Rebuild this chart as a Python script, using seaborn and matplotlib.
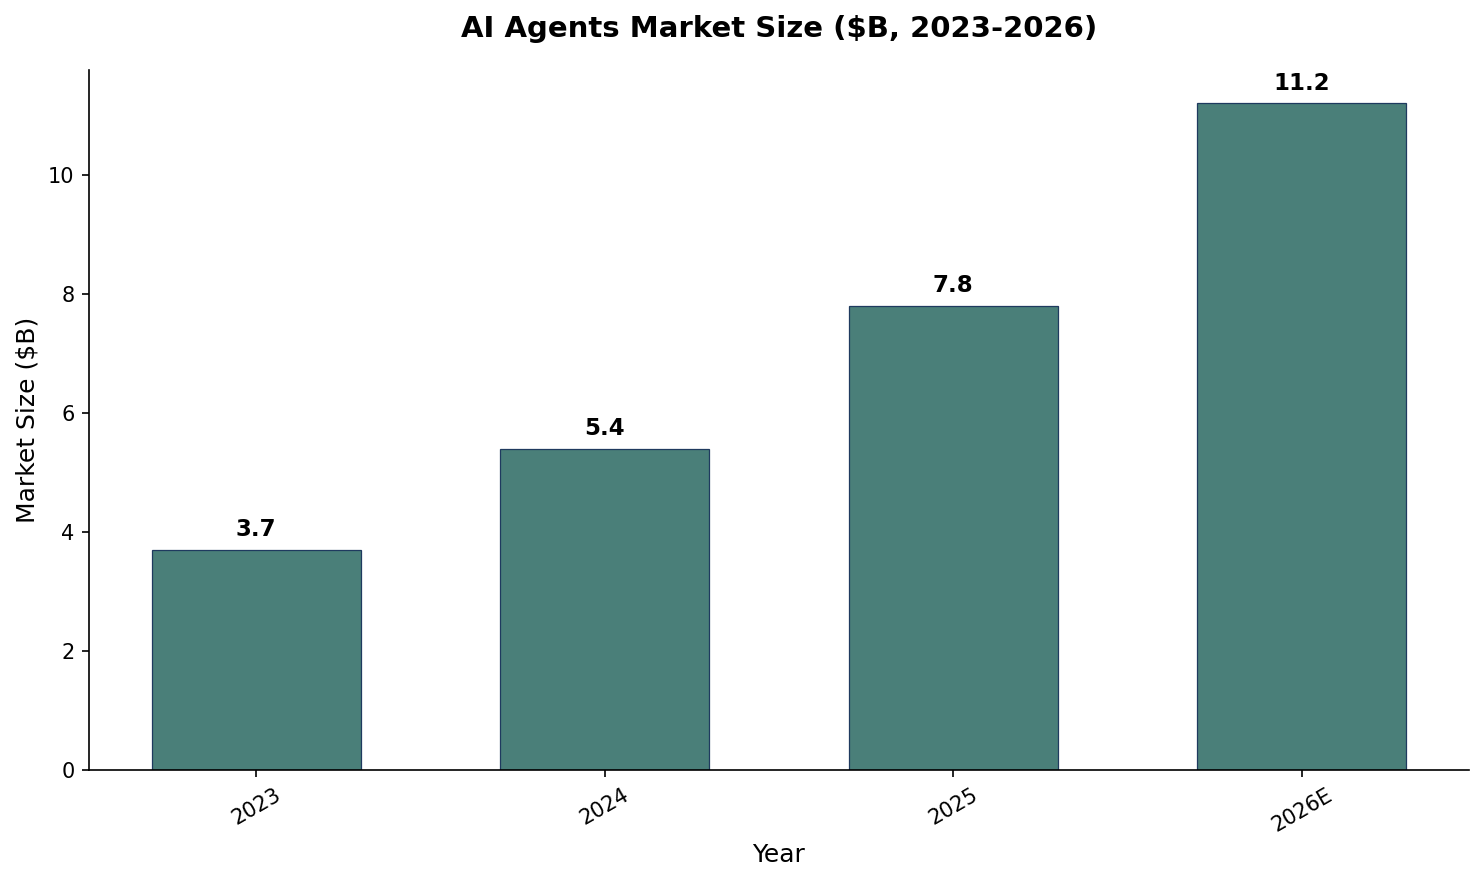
import matplotlib
matplotlib.use("Agg")
import matplotlib.pyplot as plt
import seaborn as sns
import pandas as pd

# Dados do gráfico
years = ["2023", "2024", "2025", "2026E"]
market_size = [3.7, 5.4, 7.8, 11.2]

# Estilo: texto e eixos em preto, como o padrão do matplotlib
sns.set_style("ticks", rc={
    "text.color": "black", "axes.labelcolor": "black", "axes.edgecolor": "black",
    "xtick.color": "black", "ytick.color": "black",
})
plt.rcParams['font.family'] = ['DejaVu Sans']

df = pd.DataFrame({"Year": years, "Market Size": market_size})

fig, ax = plt.subplots(figsize=(1483 / 150, 883 / 150), dpi=150)
sns.barplot(data=df, x="Year", y="Market Size", color="#4a7f79", saturation=1,
            width=0.6, edgecolor="#1f3a5f", linewidth=0.6, ax=ax)

# Rótulos de valor
for i, v in enumerate(market_size):
    ax.annotate(f"{v}", (i, v), xytext=(0, 4), textcoords="offset points",
                ha="center", va="bottom", fontsize=11, fontweight="bold")

ax.set_xlim(-0.48, 3.48)
ax.set_ylim(0, max(market_size) * 1.05)
ax.set_title("AI Agents Market Size ($B, 2023-2026)", fontsize=14, fontweight="bold", pad=16)
ax.set_xlabel("Year", fontsize=12)
ax.set_ylabel("Market Size ($B)", fontsize=12)
ax.tick_params(axis="x", rotation=30, labelsize=10)
ax.tick_params(axis="y", labelsize=10)
sns.despine(ax=ax)

fig.subplots_adjust(left=89 / 1483, right=1469 / 1483, top=1 - 70 / 883, bottom=1 - 770 / 883)
fig.savefig("out.png", dpi=150)
